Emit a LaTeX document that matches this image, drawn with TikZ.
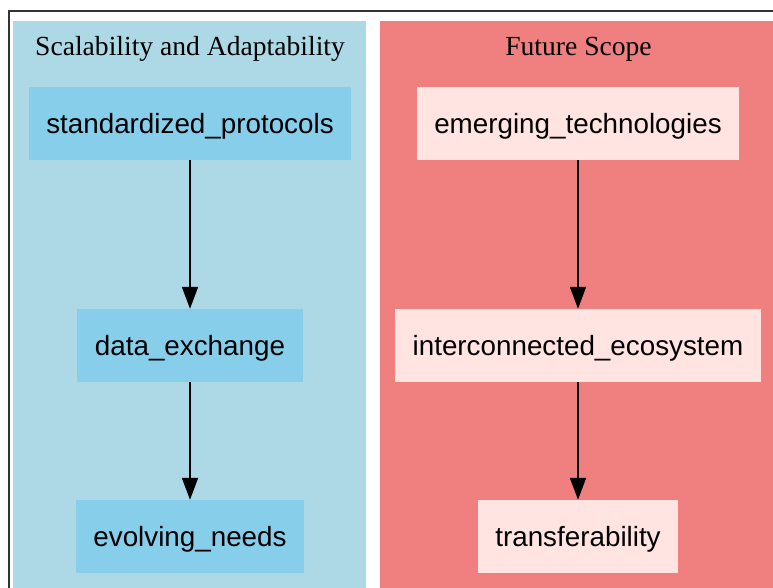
\documentclass[tikz,border=0pt]{standalone}
\usepackage{fontspec}
\setmainfont{Liberation Serif}
\newfontfamily\boxfont{Liberation Sans}
\usepackage{tikz}
\usetikzlibrary{shapes,arrows.meta,positioning}
\definecolor{clusterblue}{HTML}{ADD8E6}
\definecolor{boxblue}{HTML}{87CEEB}
\definecolor{clusterred}{HTML}{F08080}
\definecolor{boxred}{HTML}{FFE4E1}
\definecolor{framegray}{HTML}{333333}
\tikzstyle{blueblock}=[rectangle, fill=boxblue, align=center, inner xsep=17.5pt, inner ysep=0pt, minimum height=73pt, text depth=1pt, font=\boxfont\fontsize{27.8}{32}\selectfont]
\tikzstyle{redblock}=[rectangle, fill=boxred, align=center, inner xsep=17.5pt, inner ysep=0pt, minimum height=73pt, text depth=1pt, font=\boxfont\fontsize{27.8}{32}\selectfont]
\tikzstyle{clustertitle}=[anchor=base, inner sep=0pt, font=\fontsize{27.6}{32}\selectfont]
\tikzstyle{flow}=[-{Triangle[length=22pt,width=16pt]}, line width=1.8pt, black]

\begin{document}
\begin{tikzpicture}[x=1pt, y=-1pt]

\useasboundingbox (0,0) rectangle (773,588);
\clip (0,0) rectangle (773,588);

% frame and clusters
\draw[framegray, line width=1.5pt] (9,11) rectangle (800,620);
\fill[clusterblue] (13,21) rectangle (366,620);
\fill[clusterred] (380,21) rectangle (800,620);

\node[clustertitle] (t1) at (190,56) {Scalability and Adaptability};
\node[clustertitle] (t2) at (578.5,56) {Future Scope};

\node[blueblock] (p1) at (190,123.5) {standardized\_protocols};
\node[blueblock] (p2) at (190,345.5) {data\_exchange};
\node[blueblock] (p3) at (190,536.5) {evolving\_needs};
\node[redblock] (f1) at (578,123.5) {emerging\_technologies};
\node[redblock] (f2) at (578,345.5) {interconnected\_ecosystem};
\node[redblock] (f3) at (578,536.5) {transferability};

\draw[flow] (p1.south) -- (p2.north);
\draw[flow] (p2.south) -- (p3.north);
\draw[flow] (f1.south) -- (f2.north);
\draw[flow] (f2.south) -- (f3.north);

\end{tikzpicture}
\end{document}
